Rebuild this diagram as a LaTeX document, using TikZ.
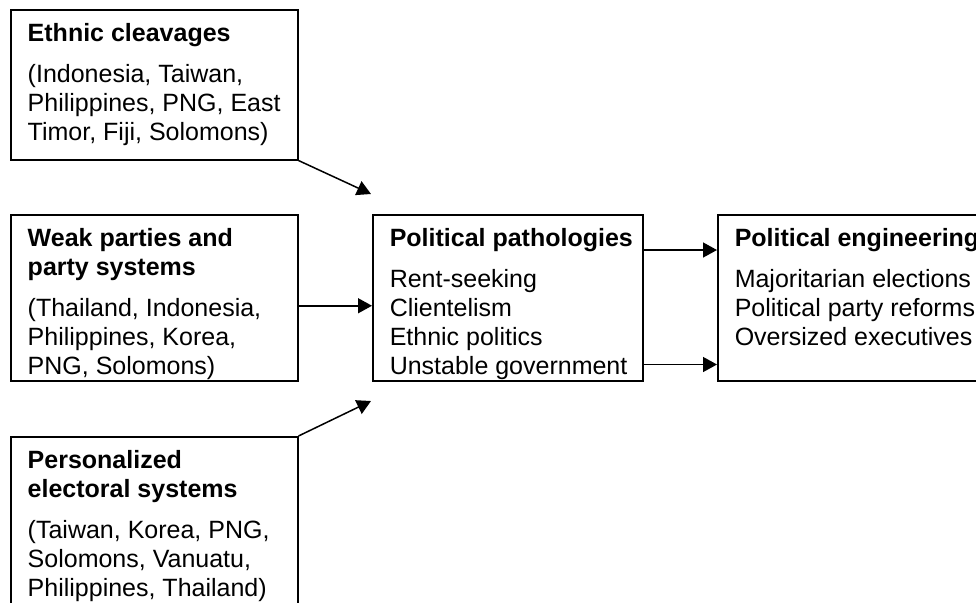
\documentclass[tikz,border=0pt]{standalone}
\usepackage{fontspec}
\setmainfont{Liberation Sans}
\usetikzlibrary{arrows.meta}

\newcommand{\panel}[3]{\parbox[t][#2][t]{#1}{\raggedright\leftskip=8.5pt #3}}

\begin{document}
\begin{tikzpicture}[x=0.5pt,y=-0.5pt]
    \tikzstyle{every node}=[font=\fontsize{12.5}{14.5}\selectfont]
    \tikzstyle{box}=[draw,line width=0.75pt,anchor=north west,inner xsep=0pt,inner ysep=7pt]
    \tikzstyle{link}=[line width=0.75pt,-{Triangle[length=7pt,width=7.5pt]}]
    \useasboundingbox (0,0) rectangle (976,602);
    \clip (0,0) rectangle (976,602);

    \node[box] (ethnic) at (10,9) {\panel{143.5pt}{61pt}{\textbf{Ethnic cleavages}\\[6pt]
    (Indonesia, Taiwan,\\ Philippines, PNG, East\\ Timor, Fiji, Solomons)}};

    \node[box] (weak) at (10,214) {\panel{143.5pt}{69pt}{\textbf{Weak parties and}\\
    \textbf{party systems}\\[6pt] (Thailand, Indonesia,\\ Philippines, Korea,\\ PNG, Solomons)}};

    \node[box] (person) at (10,436) {\panel{143.5pt}{100pt}{\textbf{Personalized}\\
    \textbf{electoral systems}\\[6pt] (Taiwan, Korea, PNG,\\ Solomons, Vanuatu,\\
    Philippines, Thailand)}};

    \node[box] (patho) at (372,214) {\panel{135pt}{69pt}{\textbf{Political pathologies}\\[6pt]
    Rent-seeking\\ Clientelism\\ Ethnic politics\\ Unstable government}};

    \node[box] (engin) at (717,214) {\panel{150pt}{69pt}{\textbf{Political engineering}\\[6pt]
    Majoritarian elections\\ Political party reforms\\ Oversized executives}};

    \coordinate (ethnictip) at (371,194);
    \coordinate (persontip) at (371,401);
    \coordinate (pathoup) at ([yshift=-18pt]patho.north east);
    \coordinate (pathodown) at ([yshift=8.5pt]patho.south east);

    \draw[link] (ethnic.south east) -- (ethnictip);
    \draw[link] ([yshift=-4pt]weak.east) -- ([yshift=-4pt]patho.west);
    \draw[link] (person.north east) -- (persontip);
    \draw[link] (pathoup) -- (pathoup -| engin.west);
    \draw[link] (pathodown) -- (pathodown -| engin.west);

\end{tikzpicture}
\end{document}
